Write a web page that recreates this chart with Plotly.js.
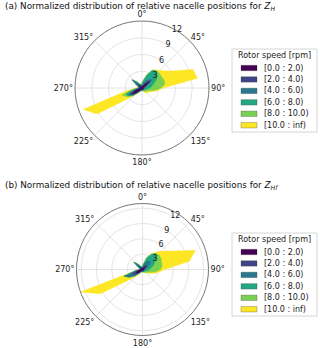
<!DOCTYPE html>
<html>
<head>
<meta charset="utf-8">
<script src="https://cdn.plot.ly/plotly-3.0.1.min.js"></script>
<style>
  html, body { margin: 0; padding: 0; background: #fff; }
  #chart { width: 320px; height: 348px; }
</style>
</head>
<body>
<div id="chart"></div>
<script>
// nacelle direction bins (degrees), 36 sectors
const directions = [0, 10, 20, 30, 40, 50, 60, 70, 80, 90, 100, 110, 120, 130, 140, 150, 160, 170,
  180, 190, 200, 210, 220, 230, 240, 250, 260, 270, 280, 290, 300, 310, 320, 330, 340, 350];

const speedBins = ['[0.0 : 2.0)', '[2.0 : 4.0)', '[4.0 : 6.0)', '[6.0 : 8.0)', '[8.0 : 10.0)', '[10.0 : inf)'];
const binColors = ['#440154', '#414487', '#2a788e', '#22a884', '#7ad151', '#fde725'];
const radialTicks = [3, 6, 9, 12];
const angleTicks = [0, 45, 90, 135, 180, 225, 270, 315];

// (a) Z_H : normalized frequency per rotor speed class
const a_0_2 = [0.2, 0.2, 0.3, 0.5, 1.0, 1.9, 0.6, 0.3, 0.2, 0.2, 0.2, 0.2, 0.2, 0.3, 0.2, 0.2, 0.2, 0.2,
  0.2, 0.2, 0.2, 0.3, 0.5, 1.2, 2.2, 1.2, 0.4, 0.3, 0.3, 0.3, 0.4, 0.6, 0.4, 0.3, 0.2, 0.2];
const a_2_4 = [0.1, 0.2, 0.2, 0.3, 0.4, 0.2, 0.3, 0.2, 0.2, 0.1, 0.1, 0.1, 0.1, 0.1, 0.1, 0.1, 0.1, 0.1,
  0.1, 0.1, 0.1, 0.1, 0.2, 0.3, 0.2, 0.4, 0.2, 0.1, 0.1, 0.1, 0.2, 0.4, 0.3, 0.1, 0.1, 0.1];
const a_4_6 = [0.2, 0.3, 0.6, 0.8, 0.6, 0.3, 0.4, 0.3, 0.2, 0.2, 0.1, 0.1, 0.1, 0.1, 0.1, 0.1, 0.1, 0.1,
  0.1, 0.1, 0.1, 0.1, 0.2, 0.3, 0.3, 0.8, 0.5, 0.2, 0.2, 0.2, 0.5, 1.3, 0.6, 0.3, 0.2, 0.2];
const a_6_8 = [0.3, 0.6, 1.3, 2.0, 1.9, 1.2, 1.7, 1.4, 1.2, 0.9, 0.6, 0.3, 0.2, 0.1, 0.1, 0.1, 0.1, 0.1,
  0.1, 0.1, 0.1, 0.1, 0.1, 0.2, 0.2, 0.7, 0.3, 0.1, 0.1, 0.1, 0.1, 0.0, 0.1, 0.1, 0.1, 0.1];
const a_8_10 = [0.1, 0.1, 0.1, 0.1, 0.2, 0.5, 1.0, 2.0, 2.4, 2.0, 1.4, 0.7, 0.4, 0.4, 0.3, 0.1, 0.0, 0.0,
  0.0, 0.0, 0.0, 0.1, 0.2, 0.2, 0.2, 0.7, 0.6, 0.1, 0.0, 0.0, 0.0, 0.0, 0.0, 0.0, 0.0, 0.1];
const a_10_inf = [0.1, 0.1, 0.1, 0.1, 0.1, 0.7, 2.1, 5.5, 5.9, 0.4, 0.4, 0.5, 0.4, 0.3, 0.4, 0.2, 0.1, 0.0,
  0.0, 0.0, 0.1, 0.1, 0.2, 0.4, 6.2, 7.4, 0.8, 0.2, 0.1, 0.1, 0.1, 0.0, 0.1, 0.1, 0.1, 0.1];

// (b) Z_Hf
const b_0_2 = [0.2, 0.2, 0.3, 0.4, 0.6, 0.8, 0.4, 0.3, 0.2, 0.2, 0.2, 0.2, 0.2, 0.2, 0.2, 0.2, 0.2, 0.2,
  0.2, 0.2, 0.2, 0.2, 0.4, 0.9, 1.4, 1.2, 0.5, 0.3, 0.2, 0.2, 0.3, 0.5, 0.4, 0.3, 0.2, 0.2];
const b_2_4 = [0.1, 0.1, 0.2, 0.3, 0.4, 0.4, 0.3, 0.2, 0.1, 0.1, 0.1, 0.1, 0.1, 0.1, 0.1, 0.1, 0.1, 0.1,
  0.1, 0.1, 0.1, 0.1, 0.2, 0.4, 0.6, 0.8, 0.3, 0.1, 0.1, 0.1, 0.2, 0.4, 0.3, 0.1, 0.1, 0.1];
const b_4_6 = [0.2, 0.3, 0.8, 1.2, 1.2, 0.8, 0.6, 0.4, 0.3, 0.2, 0.1, 0.1, 0.1, 0.1, 0.1, 0.1, 0.1, 0.1,
  0.1, 0.1, 0.1, 0.1, 0.2, 0.5, 0.9, 1.8, 0.5, 0.2, 0.1, 0.1, 0.4, 1.3, 0.6, 0.2, 0.1, 0.1];
const b_6_8 = [0.2, 0.5, 1.1, 1.5, 1.8, 1.5, 1.5, 1.3, 1.1, 0.8, 0.6, 0.3, 0.2, 0.1, 0.1, 0.1, 0.1, 0.1,
  0.1, 0.1, 0.1, 0.1, 0.1, 0.1, 0.1, 0.0, 0.1, 0.1, 0.1, 0.1, 0.1, 0.0, 0.1, 0.1, 0.1, 0.1];
const b_8_10 = [0.1, 0.1, 0.1, 0.1, 0.1, 0.8, 1.4, 1.8, 2.2, 2.2, 1.6, 0.9, 0.5, 0.4, 0.2, 0.1, 0.0, 0.0,
  0.0, 0.0, 0.0, 0.1, 0.1, 0.1, 0.1, 0.1, 0.1, 0.0, 0.0, 0.0, 0.0, 0.0, 0.0, 0.0, 0.0, 0.1];
const b_10_inf = [0.1, 0.1, 0.1, 0.1, 0.4, 1.3, 3.0, 7.0, 5.4, 0.8, 0.6, 0.7, 0.4, 0.2, 0.2, 0.1, 0.1, 0.0,
  0.0, 0.0, 0.1, 0.1, 0.5, 0.8, 6.4, 9.0, 0.1, 0.1, 0.1, 0.1, 0.1, 0.0, 0.1, 0.1, 0.1, 0.1];

const W = 320, H = 348;
const FONT = 'DejaVu Sans, sans-serif';
const px = (x) => x / W;
const py = (y) => 1 - y / H;

// stacked filled polygons, outermost (total) first so the inner classes sit on top
function roseTraces (classes, subplot) {
  let cum = directions.map(() => 0);
  const stacks = classes.map((vals) => {
    cum = cum.map((c, i) => c + vals[i]);
    return cum.slice();
  });
  const traces = [];
  for (let k = stacks.length - 1; k >= 0; k--) {
    traces.push({
      type: 'scatterpolar',
      subplot,
      r: stacks[k].concat([stacks[k][0]]),
      theta: directions.concat([directions[0]]),
      mode: 'lines',
      fill: 'toself',
      fillcolor: binColors[k],
      line: { color: binColors[k], width: 0.4 },
      name: speedBins[k],
      showlegend: false,
      hoverinfo: 'skip'
    });
  }
  return traces;
}

function polarLayout (domainX, domainY, rmax) {
  return {
    domain: { x: domainX, y: domainY },
    bgcolor: '#ffffff',
    angularaxis: {
      rotation: 90,
      direction: 'clockwise',
      tickmode: 'array',
      tickvals: angleTicks,
      ticktext: angleTicks.map((a) => a + '°'),
      ticks: '',
      showline: true,
      linecolor: '#777777',
      linewidth: 1,
      gridcolor: '#dddddd',
      gridwidth: 0.8,
      tickfont: { family: FONT, size: 8, color: '#222' }
    },
    radialaxis: {
      range: [0, rmax],
      tickmode: 'array',
      tickvals: radialTicks,
      angle: 67.5,
      tickangle: 67.5,
      showline: false,
      ticks: '',
      gridcolor: '#dddddd',
      gridwidth: 0.8,
      layer: 'above traces',
      tickfont: { family: FONT, size: 8, color: '#222' }
    }
  };
}

// hand-built legend box so the rows stay as compact as matplotlib's
function legendParts (top) {
  const shapes = [{
    type: 'rect', xref: 'paper', yref: 'paper',
    x0: px(232), x1: px(317), y0: py(top), y1: py(top + 83),
    line: { color: '#cccccc', width: 0.8 }, fillcolor: 'rgba(255,255,255,0.8)'
  }];
  const annotations = [{
    xref: 'paper', yref: 'paper', x: px(274.5), y: py(top + 6.5),
    text: 'Rotor speed [rpm]', showarrow: false, xanchor: 'center', yanchor: 'middle',
    font: { family: FONT, size: 8, color: '#222' }
  }];
  speedBins.forEach((label, i) => {
    const yc = top + 19 + i * 11.45;
    shapes.push({
      type: 'rect', xref: 'paper', yref: 'paper',
      x0: px(241), x1: px(257), y0: py(yc - 2.7), y1: py(yc + 2.7),
      line: { color: 'rgba(60,60,60,0.6)', width: 0.5 }, fillcolor: binColors[i]
    });
    annotations.push({
      xref: 'paper', yref: 'paper', x: px(262), y: py(yc),
      text: label, showarrow: false, xanchor: 'left', yanchor: 'middle',
      font: { family: FONT, size: 8, color: '#222' }
    });
  });
  return { shapes, annotations };
}

const data = roseTraces([a_0_2, a_2_4, a_4_6, a_6_8, a_8_10, a_10_inf], 'polar')
  .concat(roseTraces([b_0_2, b_2_4, b_4_6, b_6_8, b_8_10, b_10_inf], 'polar2'));

const legA = legendParts(49);
const legB = legendParts(233);

const titles = [
  { y: 7, text: '(a) Normalized distribution of relative nacelle positions for <i>Z</i><sub><i>H</i></sub>' },
  { y: 185.5, text: '(b) Normalized distribution of relative nacelle positions for <i>Z</i><sub><i>Hf</i></sub>' }
].map((t) => ({
  xref: 'paper', yref: 'paper', x: px(3), y: py(t.y),
  text: t.text, showarrow: false, xanchor: 'left', yanchor: 'middle',
  font: { family: FONT, size: 8.8, color: '#111' }
}));

const layout = {
  width: W,
  height: H,
  margin: { l: 0, r: 0, t: 0, b: 0 },
  paper_bgcolor: '#ffffff',
  font: { family: FONT, size: 8, color: '#222' },
  showlegend: false,
  polar: polarLayout([px(75), px(209)], [py(155), py(21)], 12.0),
  polar2: polarLayout([px(76.5), px(208.5)], [py(335.5), py(203.5)], 12.9),
  shapes: legA.shapes.concat(legB.shapes),
  annotations: titles.concat(legA.annotations, legB.annotations)
};

Plotly.newPlot('chart', data, layout, { displayModeBar: false, staticPlot: true });
</script>
</body>
</html>
